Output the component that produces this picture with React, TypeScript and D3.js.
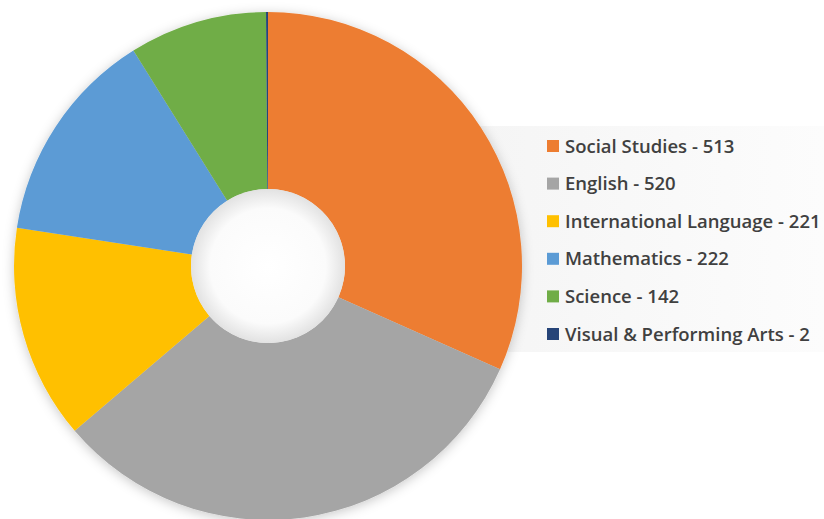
import { useEffect, useRef } from "react";
import * as d3 from "d3";

const subjects = [
  "Social Studies",
  "English",
  "International Language",
  "Mathematics",
  "Science",
  "Visual & Performing Arts",
];
const counts = [513, 520, 221, 222, 142, 2];
const colors = ["#ED7D31", "#A5A5A5", "#FFC000", "#5B9BD5", "#70AD47", "#264478"];

const App = () => {
  const ref = useRef<SVGSVGElement>(null);

  useEffect(() => {
    const width = 824;
    const height = 519;
    const cx = 268;
    const cy = 266;
    const outer = 254;
    const inner = 77;

    const svg = d3.select(ref.current);
    svg.selectAll("*").remove();

    const defs = svg.append("defs");
    const shadow = defs.append("filter").attr("id", "shadow").attr("x", "-20%").attr("y", "-20%").attr("width", "140%").attr("height", "140%");
    shadow
      .append("feDropShadow")
      .attr("dx", 0)
      .attr("dy", 2)
      .attr("stdDeviation", 6)
      .attr("flood-color", "#000")
      .attr("flood-opacity", 0.22);

    const hole = defs.append("radialGradient").attr("id", "hole");
    hole.append("stop").attr("offset", "0%").attr("stop-color", "#ffffff");
    hole.append("stop").attr("offset", "75%").attr("stop-color", "#fbfbfb");
    hole.append("stop").attr("offset", "100%").attr("stop-color", "#e2e2e2");

    const legendBg = defs.append("linearGradient").attr("id", "legbg").attr("x1", 0).attr("x2", 1);
    legendBg.append("stop").attr("offset", "0%").attr("stop-color", "#f5f5f5");
    legendBg.append("stop").attr("offset", "100%").attr("stop-color", "#fcfcfc");

    svg.append("rect").attr("width", width).attr("height", height).attr("fill", "#ffffff");

    // legend background (mostly hidden under the pie on its left side)
    svg
      .append("rect")
      .attr("x", 480)
      .attr("y", 126)
      .attr("width", 344)
      .attr("height", 226)
      .attr("fill", "url(#legbg)");

    const pie = d3.pie<number>().sort(null).value((d) => d);
    const arc = d3.arc<d3.PieArcDatum<number>>().innerRadius(inner).outerRadius(outer);

    const g = svg.append("g").attr("transform", `translate(${cx},${cy})`);
    const slices = g.append("g").attr("filter", "url(#shadow)");
    slices
      .selectAll("path")
      .data(pie(counts))
      .join("path")
      .attr("d", arc)
      .attr("fill", (_, i) => colors[i]);

    g.append("circle").attr("r", inner).attr("fill", "url(#hole)");

    // legend
    const y = d3.scalePoint<string>().domain(subjects).range([146, 334]);
    const leg = svg
      .append("g")
      .selectAll("g")
      .data(subjects)
      .join("g")
      .attr("transform", (d) => `translate(547,${y(d)})`);
    leg
      .append("rect")
      .attr("x", 0)
      .attr("y", -6)
      .attr("width", 12)
      .attr("height", 12)
      .attr("fill", (_, i) => colors[i]);
    leg
      .append("text")
      .attr("x", 18)
      .attr("dy", "0.36em")
      .attr("font-family", "'Open Sans', sans-serif")
      .attr("font-weight", 600)
      .attr("font-size", 18.5)
      .attr("fill", "#404040")
      .text((d, i) => `${d} - ${counts[i]}`);
  }, []);

  return (
    <svg
      ref={ref}
      width={824}
      height={519}
      style={{ position: "absolute", left: 0, top: 0 }}
    />
  );
};

export default App;
